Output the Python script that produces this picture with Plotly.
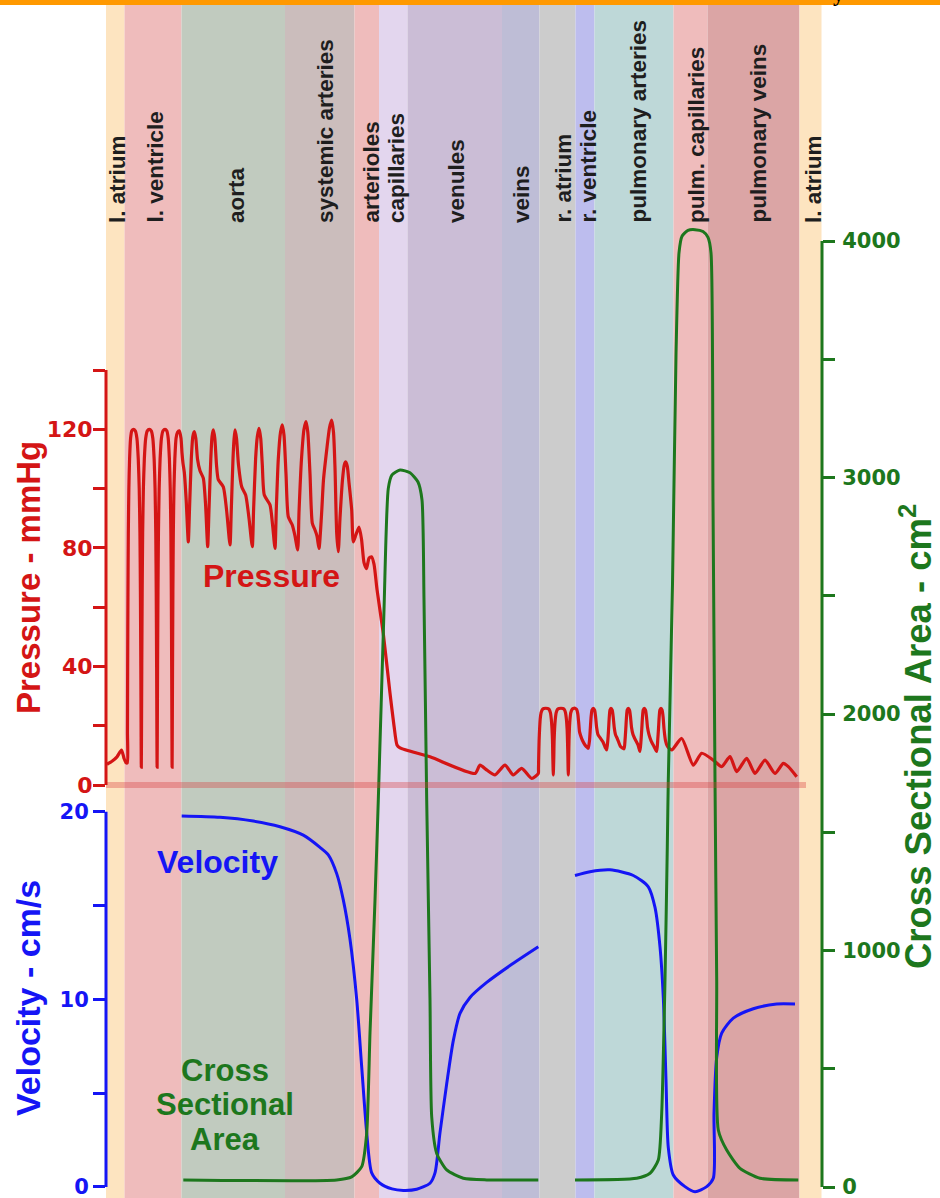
import plotly.graph_objects as go

# ---------------- data ----------------
segment_names = ["l. atrium", "l. ventricle", "aorta", "systemic arteries", "arterioles",
                 "capillaries", "venules", "veins", "r. atrium", "r. ventricle",
                 "pulmonary arteries", "pulm. capillaries", "pulmonary veins", "l. atrium"]
segment_edges = [0, 18.5, 75.5, 179, 248.5, 273, 301.5, 396, 433.5, 469.5, 488.5,
                 567.5, 601.5, 693.5, 715.5]
segment_colors = ["#FDE4C0", "#EFBCBC", "#C1CBBF", "#CBBDBC", "#EFBCBC", "#E3D6EE",
                  "#CBBDD6", "#BEBDD6", "#CCCCCC", "#BDBDEE", "#BED8D8", "#EFBCBC",
                  "#DBA5A5", "#FDE4C0"]
label_pos = [8, 46, 127, 216, 262, 287, 347, 412, 454, 479, 529, 587, 649, 704]

# pressure (mmHg) along the circulation
pressure_x = [
    1, 6, 11, 15.5, 18, 20,
    # left ventricle
    21.3, 21.45, 21.66, 21.96, 22.32, 22.86, 23.58, 24.6, 25.8, 27.3,
    29.3, 30.9, 32.26, 33.22, 33.94, 34.42, 34.82, 35.1, 35.3,
    35.5, 35.78, 36.18, 36.66, 37.38, 38.34, 39.7, 41.3, 43.3,
    45.25, 46.81, 48.14, 49.07, 49.77, 50.24, 50.63, 50.9, 51.1,
    51.3, 51.57, 51.97, 52.44, 53.15, 54.1, 55.45, 57.03, 59,
    60.78, 62.2, 63.4, 64.25, 64.89, 65.32, 65.67, 65.92, 66.1,
    66.28, 66.53, 66.89, 67.32, 67.97, 68.84, 70.06, 71.5, 73.3,
    75, 76, 77, 78.3, 80.2, 82.3,
    # aorta / systemic arteries
    83.5, 85.3, 86.8, 88.3, 89.8, 91.5, 94, 97.3, 99.5, 101.7,
    103, 104.8, 106, 107.3, 108.8, 110.5, 112.3, 117.3, 120.5, 124,
    125.3, 127, 128, 129, 130.5, 132.5, 135.7, 139.7, 143, 146.3,
    147.6, 149.6, 151.3, 153, 154.7, 156.3, 158.3, 164, 166.5, 169,
    170.3, 172.3, 174.5, 176.3, 178, 180, 182.3, 186.3, 189, 191.7,
    193, 195.5, 198, 200, 201.8, 204, 206.3, 209, 211, 213,
    215.5, 217.5, 220.7, 223.5, 225.7, 227.5, 229, 230.7, 232.3,
    234, 236.5, 238.3, 239.7, 241.3, 243, 245.7, 247.3,
    # arterioles, capillaries, venules, veins
    250, 253, 255.5, 258, 260.5, 263, 265.5, 268, 271,
    277.3, 284, 288, 291, 294, 324, 369,
    374, 381, 389, 399, 407.3, 415.7, 425.7, 432.3,
    # right atrium / ventricle
    432.5, 432.7, 433.1, 433.6, 434.2, 435.1, 436.4, 437.85, 439.7,
    441.6, 443.1, 444.4, 445.3, 446, 446.5, 446.8, 447.1, 447.3,
    447.5, 447.8, 448.1, 448.6, 449.3, 450.2, 451.5, 453.1, 455,
    456.8, 458.3, 459.5, 460.4, 461.1, 461.5, 461.9, 462.1, 462.3,
    462.5, 462.7, 463, 463.4, 464, 464.8, 466, 467.3, 469,
    470.6, 471.8, 472.7, 473.5, 474.5, 476.5, 479, 481.5,
    # pulmonary arteries
    482.3, 483.5, 484.3, 485.1, 486, 487.3, 488.6, 489.6, 490.6, 492, 494, 497, 499.5, 500.7,
    501.8, 502.6, 503.3, 504, 505, 506.2, 507.2, 508.2, 509.5, 511.5, 514.5, 518,
    519, 519.8, 520.5, 521.2, 522.3, 523.5, 524.5, 525.5, 527, 529, 532, 534,
    535, 535.8, 536.5, 537.2, 538.3, 539.5, 540.5, 541.5, 543, 545, 548, 550.7,
    551.7, 552.5, 553.2, 553.9, 555, 556.1, 557.1, 558, 559.5, 561.5, 565.7,
    # pulmonary capillaries / veins
    575.7, 587.3, 595.7, 607.3, 615.7, 624, 630.7,
    640.7, 649, 659, 669, 677.3, 682.3, 690.7]
pressure_y = [
    7.0, 8.0, 9.5, 11.8, 9.0, 7.5,
    7.5, 18, 40, 65, 85, 100, 110, 117, 119.5, 120,
    119.5, 117, 110, 100, 85, 65, 40, 18, 6,
    18, 40, 65, 85, 100, 110, 117, 119.5, 120,
    119.5, 117, 110, 100, 85, 65, 40, 18, 6,
    18, 40, 65, 85, 100, 110, 117, 119.5, 120,
    119.5, 117, 110, 100, 85, 65, 40, 18, 6,
    18, 40, 65, 85, 100, 110, 117, 119, 119.5,
    117, 112, 108.5, 105.5, 96, 82,
    93, 110, 117.5, 119.2, 117, 110, 106, 103.5, 95, 80.4,
    93, 110, 117.5, 119.8, 117, 108, 103, 100.6, 93, 81,
    93, 110, 116.5, 119.8, 117, 108, 100.6, 97.8, 90, 80.4,
    93, 110, 117.5, 120.3, 117, 108, 97.8, 94.5, 88, 79.8,
    93, 110, 119, 121.5, 118, 105, 90.5, 87.7, 84, 79.3,
    92, 110, 120, 122.6, 119, 105, 88.3, 86, 84, 79.8,
    91, 103, 113, 120.5, 123.1, 119, 107, 85, 78.7,
    90, 103, 108, 109, 107.5, 102, 92.8, 82,
    84.5, 87, 83, 75, 73, 76.5, 77, 74.5, 66,
    51, 31, 20, 13.5, 12.5, 9.5, 3.9,
    6.7, 5.0, 3.4, 6.7, 3.4, 5.6, 2.2, 3.9,
    5.5, 9.4, 14.9, 18.9, 22.2, 24.4, 25.5, 25.8, 25.9,
    25.8, 25.5, 24.4, 22.2, 18.9, 14.9, 9.4, 5.5, 3.4,
    5.5, 9.4, 14.9, 18.9, 22.2, 24.4, 25.5, 25.8, 25.9,
    25.8, 25.5, 24.4, 22.2, 18.9, 14.9, 9.4, 5.5, 3.4,
    5.5, 9.4, 14.9, 18.9, 22.2, 24.4, 25.5, 25.8, 25.9,
    25.5, 24, 21, 18, 16.8, 15, 13.5, 12.6,
    12.4, 15, 19, 23, 25.3, 25.9, 25.3, 23, 19.5, 17, 16, 14.5, 12.5, 11.8,
    15, 19, 23, 25.3, 25.9, 25.3, 23, 19.5, 17, 15.5, 13, 12.2,
    15, 19, 23, 25.3, 25.9, 25.3, 23, 19.5, 17, 15.5, 13.5, 11.3,
    15, 19, 23, 25.3, 25.9, 25.3, 23, 19.5, 17, 15, 13, 11.3,
    15, 19, 23, 25.3, 25.9, 25.3, 23, 19, 15, 13, 11.8,
    15.7, 6.7, 10.7, 8.4, 6.2, 9.6, 4.5,
    9.0, 3.9, 8.4, 3.9, 7.3, 6.2, 2.8]

# velocity (cm/s), systemic and pulmonary parts
vel_sys_x = [75.7, 114, 147.3, 174, 197.3, 214, 222.3, 230.7, 237.3, 244, 250.7, 255.7,
             260.7, 265.7, 274, 286, 297.3, 310.7, 324, 329, 334, 340.7, 347.3, 354,
             364, 380.7, 404, 432.3]
vel_sys_y = [19.77, 19.7, 19.5, 19.2, 18.75, 18.1, 17.7, 16.7, 15.3, 13.2, 10.0, 6.4,
             2.9, 0.75, 0.2, -0.1, -0.18, -0.12, 0.2, 0.75, 2.9, 5.5, 7.8, 9.25,
             10.1, 10.9, 11.8, 12.8]
vel_pul_x = [469, 484, 504, 527.3, 542.3, 549, 554, 557.3, 560, 562.3, 567.3, 579, 589,
             600.7, 607.3, 608, 610.7, 615.7, 627.3, 647.3, 670.7, 689]
vel_pul_y = [16.6, 16.8, 16.9, 16.6, 16.0, 14.9, 12.8, 10.1, 5.7, 2.1, 0.64, 0.02, -0.25,
             0.02, 0.46, 3.9, 6.9, 8.2, 9.0, 9.5, 9.75, 9.75]

# cross sectional area (cm^2)
csa_sys_x = [77.3, 230.7, 245.7, 255.7, 260.7, 264, 269, 272.3, 278, 282.3, 286, 294,
             304, 312, 316, 318, 320.7, 324, 325.7, 330.7, 340.7, 357.3, 380.7, 432.3]
csa_sys_y = [30, 30, 43, 86, 228, 651, 1213, 1636, 2440, 2954, 3011, 3032,
             3020, 2981, 2905, 2482, 1636, 791, 297, 142, 72, 37, 30, 30]
csa_pul_x = [469, 530.7, 544, 552.3, 555.7, 559, 561.3, 562.3, 566.5, 570, 573, 576,
             582, 589, 597, 602, 605, 607, 609, 610.7, 612.3, 620.7, 634, 654, 692.3]
csa_pul_y = [30, 37, 58, 114, 312, 875, 1439, 1721, 2550, 3518, 3950, 4020,
             4045, 4048, 4040, 4015, 3950, 2900, 1721, 875, 241, 156, 79, 37, 30]

# axis ticks (labelled and unlabelled)
p_ticks, p_minor = [0, 40, 80, 120], [20, 60, 100, 140]
v_ticks, v_minor = [0, 10, 20], [5, 15]
a_ticks, a_minor = [0, 1000, 2000, 3000, 4000], [500, 1500, 2500, 3500]

# ---------------- styling / layout ----------------
W, H = 940, 1198
RED, BLUE, GREEN = "#D41515", "#1515F5", "#1D771D"
SANS = "Liberation Sans, Arial, sans-serif"
TICKF = "DejaVu Sans"


def dom(p0, s, lo, hi):
    return [1 - (p0 - lo * s) / H, 1 - (p0 - hi * s) / H]


p_range, v_range, a_range = [-3, 140], [-0.55, 20.2], [-40, 4100]
p_dom = dom(785, 415 / 140, *p_range)
v_dom = dom(1187, 375.3 / 20, *v_range)
a_dom = dom(1187, 946 / 4000, *a_range)

fig = go.Figure()
fig.add_trace(go.Scatter(x=pressure_x, y=pressure_y, yaxis="y", mode="lines",
                         line=dict(color=RED, width=3.2, shape="spline", smoothing=0.6),
                         hoverinfo="skip"))
for xs, ys in [(vel_sys_x, vel_sys_y), (vel_pul_x, vel_pul_y)]:
    fig.add_trace(go.Scatter(x=xs, y=ys, yaxis="y2", mode="lines",
                             line=dict(color=BLUE, width=3, shape="spline", smoothing=0.7),
                             hoverinfo="skip"))
for xs, ys in [(csa_sys_x, csa_sys_y), (csa_pul_x, csa_pul_y)]:
    fig.add_trace(go.Scatter(x=xs, y=ys, yaxis="y3", mode="lines",
                             line=dict(color=GREEN, width=3, shape="spline", smoothing=0.6),
                             hoverinfo="skip"))

shapes = []
top_band = 1 - 5 / H
for i in range(len(segment_names)):
    shapes.append(dict(type="rect", xref="x", yref="paper", x0=segment_edges[i],
                       x1=segment_edges[i + 1], y0=0, y1=top_band,
                       fillcolor=segment_colors[i], line=dict(width=0), layer="below"))
shapes.append(dict(type="rect", xref="paper", yref="paper", x0=0, x1=1, y0=top_band, y1=1,
                   fillcolor="#FF9900", line=dict(width=0), layer="below"))
shapes.append(dict(type="line", xref="x", yref="y", x0=0, x1=700, y0=0, y1=0,
                   line=dict(color="rgba(215,60,60,0.35)", width=6), layer="above"))
shapes.append(dict(type="line", xref="x domain", yref="y", x0=0, x1=0, y0=0, y1=140,
                   line=dict(color=RED, width=3), layer="above"))
shapes.append(dict(type="line", xref="x domain", yref="y2", x0=0, x1=0, y0=0, y1=20,
                   line=dict(color=BLUE, width=3), layer="above"))
shapes.append(dict(type="line", xref="x domain", yref="y3", x0=1, x1=1, y0=0, y1=4000,
                   line=dict(color=GREEN, width=3), layer="above"))

ann = []
for name, pos in zip(segment_names, label_pos):
    ann.append(dict(x=pos, xref="x", y=1 - 225 / H, yref="paper", text=name,
                    textangle=-90, showarrow=False, xanchor="center", yanchor="bottom",
                    xshift=3, font=dict(family=SANS, size=22.5, color="#1E1E1E",
                                        weight="bold")))

ann.append(dict(x=28 / W, y=1 - 578 / H, xref="paper", yref="paper", text="Pressure - mmHg",
                textangle=-90, showarrow=False, xanchor="center", yanchor="middle",
                font=dict(family=SANS, size=33, color=RED, weight="bold")))
ann.append(dict(x=28 / W, y=1 - 998 / H, xref="paper", yref="paper", text="Velocity - cm/s",
                textangle=-90, showarrow=False, xanchor="center", yanchor="middle",
                font=dict(family=SANS, size=34, color=BLUE, weight="bold")))
ann.append(dict(x=916 / W, y=1 - 737 / H, xref="paper", yref="paper",
                text="Cross Sectional Area - cm<sup>2</sup>",
                textangle=-90, showarrow=False, xanchor="center", yanchor="middle",
                font=dict(family=SANS, size=36.5, color=GREEN, weight="bold")))
ann.append(dict(x=271 / W, y=1 - 576 / H, xref="paper", yref="paper", text="Pressure",
                showarrow=False, xanchor="center", yanchor="middle",
                font=dict(family=SANS, size=32, color=RED, weight="bold")))
ann.append(dict(x=217 / W, y=1 - 862 / H, xref="paper", yref="paper", text="Velocity",
                showarrow=False, xanchor="center", yanchor="middle",
                font=dict(family=SANS, size=32, color=BLUE, weight="bold")))
for txt, yc in [("Cross", 1070), ("Sectional", 1104), ("Area", 1139)]:
    ann.append(dict(x=225 / W, y=1 - yc / H, xref="paper", yref="paper", text=txt,
                    showarrow=False, xanchor="center", yanchor="middle",
                    font=dict(family=SANS, size=31, color=GREEN, weight="bold")))
ann.append(dict(x=838 / W, y=1, xref="paper", yref="paper", text="y", showarrow=False,
                xanchor="center", yanchor="bottom", yshift=-8,
                font=dict(family="Liberation Serif, serif", size=22, color="black",
                          weight="bold")))

common = dict(showgrid=False, zeroline=False, showline=False, ticks="outside",
              ticklen=12, tickwidth=3, anchor="x", fixedrange=True, automargin=False,
              ticklabeloverflow="allow")


def minor(vals, color):
    return dict(tickvals=vals, ticks="outside", ticklen=12, tickwidth=3, tickcolor=color,
                showgrid=False)


fig.update_layout(
    width=W, height=H, margin=dict(l=0, r=0, t=0, b=0, pad=0, autoexpand=False),
    paper_bgcolor="white", plot_bgcolor="rgba(0,0,0,0)", showlegend=False,
    xaxis=dict(domain=[106 / W, 822 / W], range=[0, 716], visible=False, fixedrange=True,
               automargin=False),
    yaxis=dict(domain=p_dom, range=p_range, tickvals=p_ticks, minor=minor(p_minor, RED),
               tickcolor=RED, side="left", ticklabelstandoff=-4,
               tickfont=dict(family=TICKF, size=22, color=RED, weight="bold"), **common),
    yaxis2=dict(domain=v_dom, range=v_range, tickvals=v_ticks, minor=minor(v_minor, BLUE),
                tickcolor=BLUE, side="left",
                tickfont=dict(family=TICKF, size=21, color=BLUE, weight="bold"), **common),
    yaxis3=dict(domain=a_dom, range=a_range, tickvals=a_ticks, minor=minor(a_minor, GREEN),
                tickcolor=GREEN, side="right", ticklabelstandoff=3,
                tickfont=dict(family=TICKF, size=21, color=GREEN, weight="bold"), **common),
    shapes=shapes, annotations=ann,
)

fig.write_html("out.html", config={"displayModeBar": False},
               post_script="document.body.style.margin='0';"
                           "document.body.style.padding='0';"
                           "document.documentElement.style.margin='0';")
